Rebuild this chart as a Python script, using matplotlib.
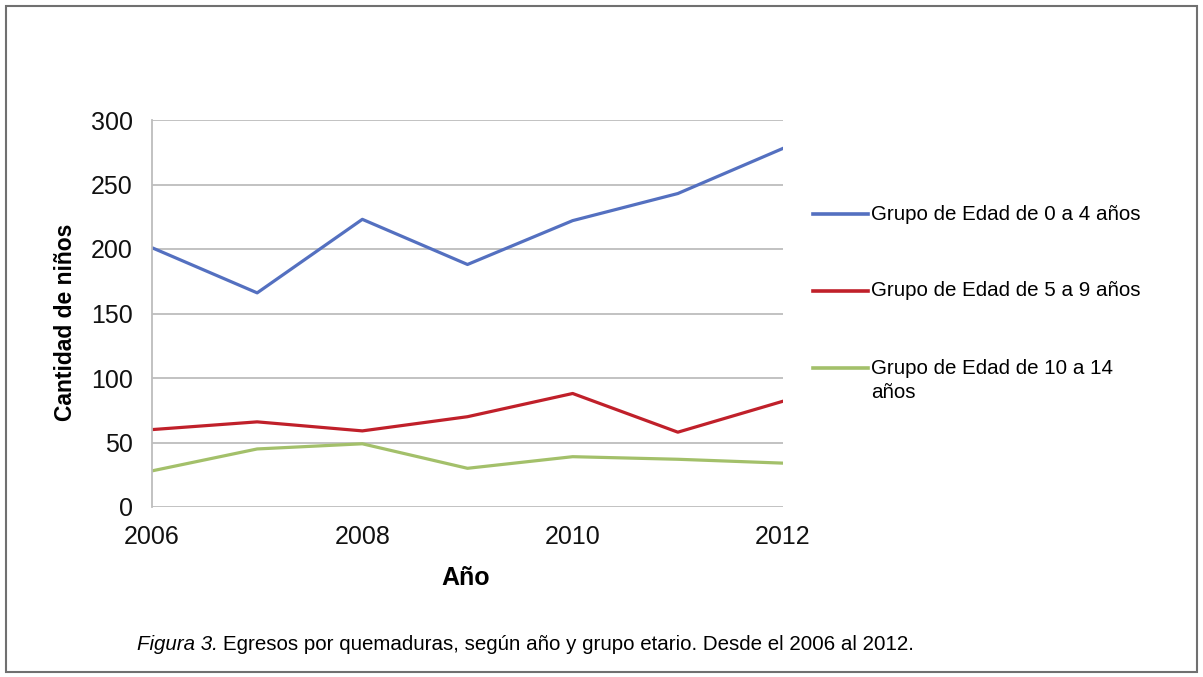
import matplotlib
matplotlib.use("Agg")
from matplotlib import pyplot as plt
from matplotlib.lines import Line2D
from matplotlib.patches import Rectangle

plt.rcParams['font.family'] = ['Liberation Sans', 'DejaVu Sans']

years = [2006, 2007, 2008, 2009, 2010, 2011, 2012]
grupo_0_4 = [201, 166, 223, 188, 222, 243, 278]
grupo_5_9 = [60, 66, 59, 70, 88, 58, 82]
grupo_10_14 = [28, 45, 49, 30, 39, 37, 34]
labels = ['Grupo de Edad de 0 a 4 años',
          'Grupo de Edad de 5 a 9 años',
          'Grupo de Edad de 10 a 14\naños']
colors = ['#5470C0', '#C0202A', '#A3C06A']

W, H = 1203, 677
fig = plt.figure(figsize=(W / 100, H / 100), dpi=100)
ax = fig.add_axes([152 / W, 1 - 507 / H, 631 / W, 387 / H])

for vals, c in zip([grupo_0_4, grupo_5_9, grupo_10_14], colors):
    ax.plot(years, vals, color=c, lw=2.3)

ax.set_xlim(2006, 2012)
ax.set_ylim(0, 300)
ax.set_xticks([2006, 2008, 2010, 2012])
ax.set_yticks(range(0, 301, 50))
ax.yaxis.grid(True, color='#BDBDBD', lw=1.3)
ax.set_axisbelow(True)
for s in ['top', 'right', 'bottom']:
    ax.spines[s].set_visible(False)
ax.spines['left'].set_color('#BDBDBD')
ax.spines['left'].set_linewidth(1.3)
ax.tick_params(axis='both', length=0, labelsize=18, colors='#111111')
ax.tick_params(axis='x', pad=13)
ax.tick_params(axis='y', pad=14)

# axis titles
fig.text(66 / W, 1 - 322 / H, 'Cantidad de niños', fontsize=16.5, fontweight='bold',
         rotation=90, ha='center', va='center')
fig.text(466 / W, 1 - 578 / H, 'Año', fontsize=18, fontweight='bold',
         ha='center', va='center')

# legend drawn by hand to mimic the spacing
leg_y = [214, 291, 368]
for lab, c, y in zip(labels, colors, leg_y):
    fig.add_artist(Line2D([813 / W, 868 / W], [1 - y / H, 1 - y / H],
                          color=c, lw=2.6, transform=fig.transFigure))
    first, *rest = lab.split('\n')
    fig.text(871 / W, 1 - y / H, first, fontsize=14.8, va='center', ha='left')
    for i, r in enumerate(rest):
        fig.text(871 / W, 1 - (y + 24 * (i + 1)) / H, r, fontsize=14.8,
                 va='center', ha='left')

# caption
t1 = fig.text(137 / W, 1 - 645 / H, 'Figura 3.', fontsize=14.8, style='italic',
              va='center', ha='left')
fig.canvas.draw()
bb = t1.get_window_extent()
fig.text((bb.x1 + 5) / W, 1 - 645 / H,
         'Egresos por quemaduras, según año y grupo etario. Desde el 2006 al 2012.',
         fontsize=14.8, va='center', ha='left')

fig.add_artist(Rectangle((6 / W, 5 / H), 1191 / W, 666 / H, fill=False,
                         edgecolor='#707070', lw=1.5, transform=fig.transFigure))

fig.savefig('out.png', dpi=100)
